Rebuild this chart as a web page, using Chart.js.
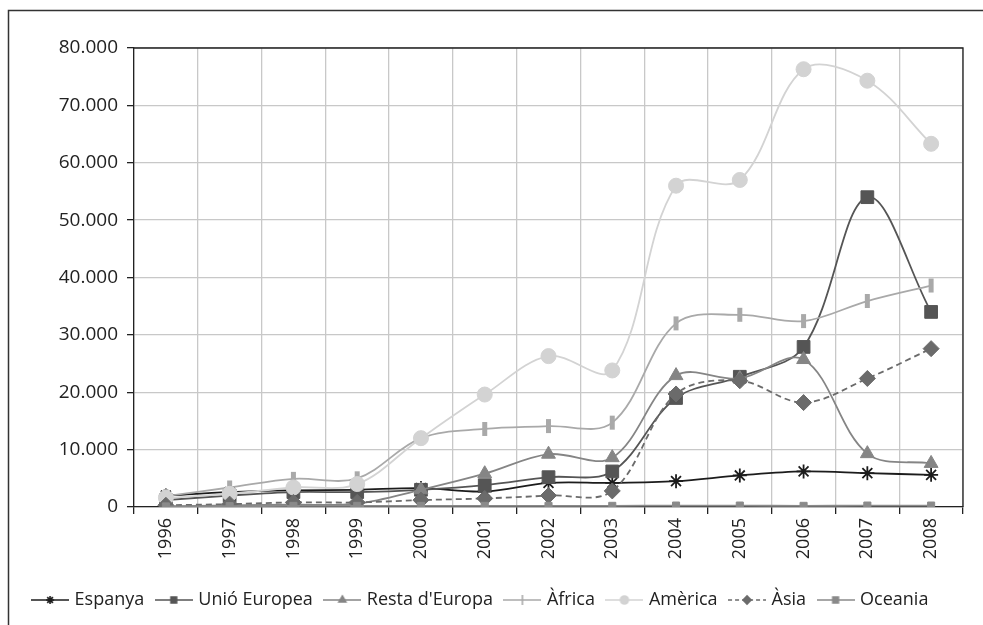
<!DOCTYPE html>
<html>
<head>
<meta charset="utf-8">
<script src="https://cdn.jsdelivr.net/npm/chart.js@4.4.1/dist/chart.umd.min.js"></script>
<style>
    html, body { margin: 0; padding: 0; background: #fff; }
    #wrap { width: 983px; height: 625px; position: relative; }
</style>
</head>
<body>
<div id="wrap"><canvas id="chart" width="983" height="625"></canvas></div>
<script>
// years on the x axis
const years = ['1996', '1997', '1998', '1999', '2000', '2001', '2002', '2003', '2004', '2005', '2006', '2007', '2008'];

// values per origin
const espanya = [2000, 2600, 2900, 3000, 3300, 2700, 4200, 4200, 4500, 5500, 6200, 5900, 5600];
const unioEuropea = [1200, 2000, 2600, 2600, 3000, 3800, 5200, 6200, 19000, 22700, 27900, 54000, 34000];
const restaEuropa = [100, 300, 400, 600, 3000, 5800, 9200, 8600, 22900, 22400, 25700, 9300, 7600];
const africa = [1900, 3400, 4900, 5000, 12000, 13600, 14100, 14700, 32000, 33500, 32400, 35900, 38600];
const america = [1600, 2300, 3400, 4000, 12000, 19600, 26300, 23800, 56000, 57000, 76300, 74300, 63300];
const asia = [300, 500, 800, 800, 1200, 1500, 2000, 2800, 19700, 22000, 18200, 22400, 27600];
const oceania = [100, 150, 200, 200, 200, 200, 200, 200, 250, 250, 200, 250, 250];

const yTicks = [0, 10000, 20000, 30000, 40000, 50000, 60000, 70000, 80000];

const FONT = "'Open Sans', 'DejaVu Sans', sans-serif";

function fmt(v) {
    return String(v).replace(/\B(?=(\d{3})+(?!\d))/g, '.');
}

const series = [
    { label: 'Espanya', data: espanya, color: '#1c1c1c', point: 'star', radius: 7, pw: 1.8, dash: [] },
    { label: 'Unió Europea', data: unioEuropea, color: '#555555', point: 'rect', radius: 9, pw: 1, dash: [] },
    { label: "Resta d'Europa", data: restaEuropa, color: '#858585', point: 'triangle', radius: 8, pw: 1, dash: [] },
    { label: 'Àfrica', data: africa, color: '#a9a9a9', point: 'line', radius: 7, pw: 5, dash: [], rot: 90 },
    { label: 'Amèrica', data: america, color: '#d3d3d3', point: 'circle', radius: 7.5, pw: 1, dash: [] },
    { label: 'Àsia', data: asia, color: '#6b6b6b', point: 'rectRot', radius: 8, pw: 1, dash: [6, 4] },
    { label: 'Oceania', data: oceania, color: '#8a8a8a', point: 'rect', radius: 5, pw: 1, dash: [] }
];

// little legend samples: a line with the marker in the middle
function legendIcon(s) {
    const c = document.createElement('canvas');
    c.width = 38;
    c.height = 14;
    const ctx = c.getContext('2d');
    ctx.strokeStyle = s.color;
    ctx.fillStyle = s.color;
    ctx.lineWidth = 1.6;
    ctx.setLineDash(s.dash.length ? [4, 3] : []);
    ctx.beginPath();
    ctx.moveTo(0, 7);
    ctx.lineTo(38, 7);
    ctx.stroke();
    ctx.setLineDash([]);
    Chart.helpers.drawPoint(ctx, {
        pointStyle: s.point,
        radius: s.point === 'line' ? 5 : 4,
        rotation: s.rot || 0,
        borderWidth: s.point === 'line' ? 3.5 : 1.3
    }, 19, 7);
    return c;
}

const framePlugin = {
    id: 'frame',
    beforeDraw(chart) {
        const ctx = chart.ctx;
        ctx.save();
        ctx.fillStyle = '#fff';
        ctx.fillRect(0, 0, chart.width, chart.height);
        ctx.strokeStyle = '#333';
        ctx.lineWidth = 1.5;
        ctx.beginPath();
        ctx.moveTo(8.5, chart.height);
        ctx.lineTo(8.5, 10.5);
        ctx.lineTo(chart.width, 10.5);
        ctx.stroke();
        ctx.restore();
    },
    afterDatasetsDraw(chart) {
        const a = chart.chartArea;
        const ctx = chart.ctx;
        ctx.save();
        ctx.strokeStyle = '#222';
        ctx.lineWidth = 1.3;
        ctx.beginPath();
        ctx.moveTo(a.left, a.top);
        ctx.lineTo(a.right, a.top);
        ctx.lineTo(a.right, a.bottom);
        ctx.stroke();
        ctx.restore();
    }
};

const icons = series.map(legendIcon);

new Chart(document.getElementById('chart'), {
    type: 'line',
    data: {
        labels: years,
        datasets: series.map((s, i) => ({
            label: s.label,
            data: s.data,
            borderColor: s.color,
            backgroundColor: s.color,
            borderWidth: 1.8,
            borderDash: s.dash,
            pointStyle: s.point,
            pointRadius: s.radius,
            pointHoverRadius: s.radius,
            pointBorderWidth: s.pw,
            pointRotation: s.rot || 0,
            pointBackgroundColor: s.color,
            pointBorderColor: s.color,
            tension: 0.35,
            fill: false,
            order: series.length - i
        }))
    },
    options: {
        responsive: false,
        animation: false,
        layout: { padding: { left: 0, right: 20, top: 48, bottom: 6 } },
        plugins: {
            tooltip: { enabled: false },
            legend: {
                position: 'bottom',
                labels: {
                    usePointStyle: true,
                    pointStyleWidth: 31,
                    padding: 14,
                    color: '#222',
                    font: { family: FONT, size: 18 },
                    sort: (a, b) => a.datasetIndex - b.datasetIndex,
                    generateLabels: function (chart) {
                        const items = Chart.defaults.plugins.legend.labels.generateLabels(chart);
                        items.forEach(item => {
                            item.pointStyle = icons[item.datasetIndex];
                            item.rotation = 0;
                        });
                        return items;
                    }
                }
            }
        },
        scales: {
            x: {
                offset: true,
                afterFit: function (scale) { scale.height = 70; },
                grid: { offset: true, color: '#c8c8c8', lineWidth: 1.3, tickColor: '#222', tickLength: 7 },
                border: { color: '#222', width: 1.3 },
                ticks: {
                    minRotation: 90,
                    maxRotation: 90,
                    padding: 4,
                    color: '#222',
                    font: { family: FONT, size: 18 }
                }
            },
            y: {
                min: 0,
                max: 80000,
                afterFit: function (scale) { scale.width = 134; },
                afterBuildTicks: function (scale) {
                    scale.ticks = yTicks.map(v => ({ value: v }));
                },
                grid: { color: '#c8c8c8', lineWidth: 1.3, tickColor: '#222', tickLength: 7 },
                border: { color: '#222', width: 1.3 },
                ticks: {
                    padding: 9,
                    color: '#222',
                    font: { family: FONT, size: 19 },
                    callback: function (v) { return fmt(v); }
                }
            }
        }
    },
    plugins: [framePlugin]
});
</script>
</body>
</html>
